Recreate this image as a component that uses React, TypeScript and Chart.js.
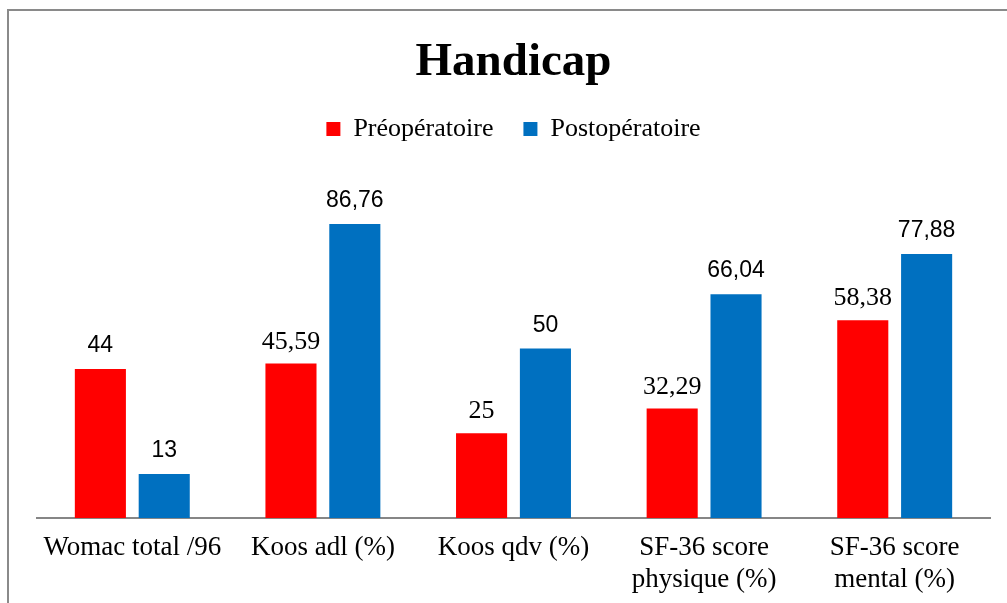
import React, { useEffect, useRef } from "react";
import { Chart, registerables } from "chart.js";

Chart.register(...registerables);

const categories: (string | string[])[] = [
  "Womac total /96",
  "Koos adl (%)",
  "Koos qdv (%)",
  ["SF-36 score", "physique (%)"],
  ["SF-36 score", "mental (%)"],
];
const preoperatoire = [44, 45.59, 25, 32.29, 58.38];
const postoperatoire = [13, 86.76, 50, 66.04, 77.88];
const seriesNames = ["Préopératoire", "Postopératoire"];
const seriesColors = ["#FF0000", "#0070C0"];

const SERIF = "'Liberation Serif', 'Times New Roman', serif";
const SANS = "'Liberation Sans', Arial, sans-serif";

const fmt = (v: number) => String(v).replace(".", ",");

const valueLabels = {
  id: "valueLabels",
  afterDatasetsDraw(chart: any) {
    const ctx = chart.ctx;
    ctx.save();
    ctx.fillStyle = "#000";
    ctx.textAlign = "center";
    ctx.textBaseline = "alphabetic";
    chart.data.datasets.forEach((ds: any, di: number) => {
      const meta = chart.getDatasetMeta(di);
      meta.data.forEach((el: any, i: number) => {
        const serif = di === 0 && i > 0;
        ctx.font = serif ? `26px ${SERIF}` : `23px ${SANS}`;
        ctx.fillText(fmt(ds.data[i]), el.x, el.y - (serif ? 15 : 17));
      });
    });
    ctx.restore();
  },
};

export default function App() {
  const ref = useRef<HTMLCanvasElement | null>(null);
  useEffect(() => {
    if (!ref.current) return;
    const chart = new Chart(ref.current, {
      type: "bar",
      data: {
        labels: categories as any,
        datasets: [
          {
            label: seriesNames[0],
            data: preoperatoire,
            backgroundColor: seriesColors[0],
            barPercentage: 0.8,
            categoryPercentage: 0.67,
          },
          {
            label: seriesNames[1],
            data: postoperatoire,
            backgroundColor: seriesColors[1],
            barPercentage: 0.8,
            categoryPercentage: 0.67,
          },
        ],
      },
      options: {
        responsive: false,
        animation: false,
        layout: { padding: { left: 37, right: 17, top: 0, bottom: 0 } },
        plugins: {
          title: {
            display: true,
            text: "Handicap",
            color: "#000",
            font: { family: SERIF, size: 47, weight: "bold", lineHeight: 1.0 },
            padding: { top: 39, bottom: 0 },
          },
          legend: {
            display: true,
            labels: {
              color: "#000",
              boxWidth: 14,
              boxHeight: 14,
              padding: 30,
              font: { family: SERIF, size: 26 },
            },
          },
          tooltip: { enabled: false },
        },
        scales: {
          x: {
            grid: { display: false, drawTicks: false },
            border: { display: true, color: "#868686", width: 2 },
            ticks: {
              color: "#000",
              padding: 14,
              maxRotation: 0,
              autoSkip: false,
              font: { family: SERIF, size: 27, lineHeight: 1.19 },
            },
            afterFit(scale: any) {
              scale.height = 85;
            },
          },
          y: {
            display: false,
            min: 0,
            max: 108,
          },
        },
      },
      plugins: [valueLabels],
    } as any);
    return () => chart.destroy();
  }, []);

  return (
    <div
      style={{
        position: "fixed",
        left: 0,
        top: 0,
        width: 1007,
        height: 603,
        background: "#fff",
        overflow: "hidden",
      }}
    >
      <div
        style={{
          position: "absolute",
          left: 7,
          top: 9,
          width: 1100,
          height: 700,
          borderLeft: "2px solid #8a8a8a",
          borderTop: "2px solid #8a8a8a",
        }}
      />
      <canvas
        ref={ref}
        width={1007}
        height={603}
        style={{ position: "absolute", left: 0, top: 0, display: "block" }}
      />
    </div>
  );
}
